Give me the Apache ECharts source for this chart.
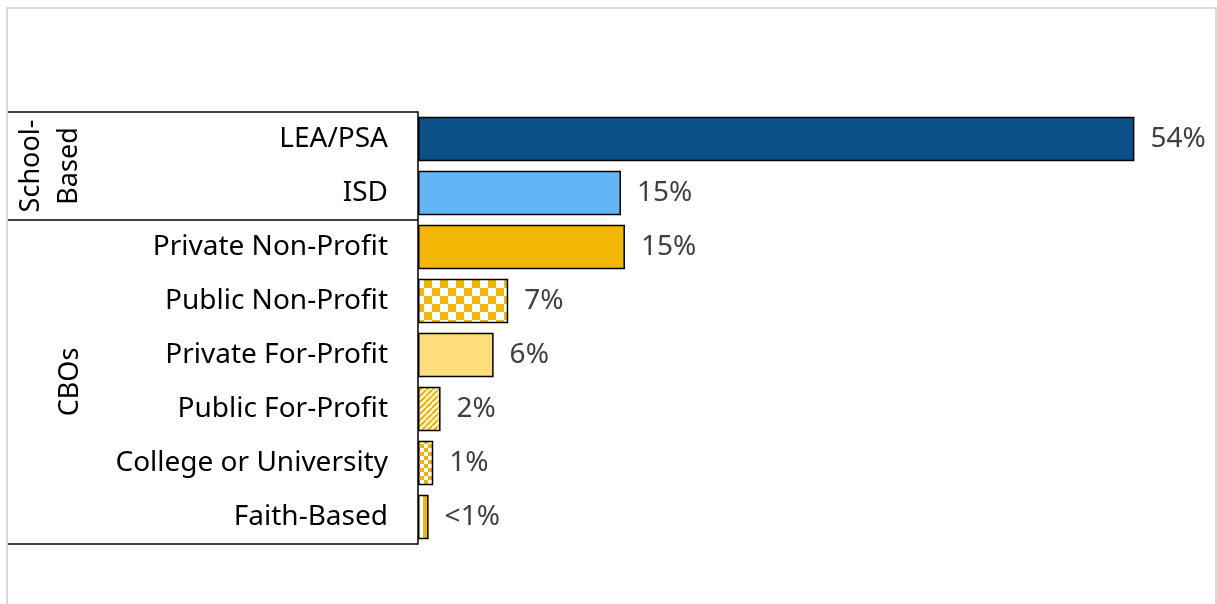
<!DOCTYPE html>
<html>
<head>
<meta charset="utf-8">
<script src="https://cdn.jsdelivr.net/npm/echarts@6/dist/echarts.min.js"></script>
<style>
  html, body { margin: 0; padding: 0; background: #fff; }
  #content { width: 1217px; height: 604px; }
</style>
</head>
<body>
<div id="content"></div>
<script>
// categories, top to bottom
const categories = ['LEA/PSA', 'ISD', 'Private Non-Profit', 'Public Non-Profit',
  'Private For-Profit', 'Public For-Profit', 'College or University', 'Faith-Based']
// share of providers (%)
const shares = [54, 15.3, 15.6, 6.8, 5.7, 1.7, 1.15, 0.8]
// labels printed next to each bar
const shareLabels = ['54%', '15%', '15%', '7%', '6%', '2%', '1%', '<1%']
// group headings
const groups = ['School-\nBased', 'CBOs']

const gold = '#f2b705'
const font = 'Noto Sans'

// small canvas fills for the patterned bars
function pattern(kind) {
  const c = document.createElement('canvas')
  const ctx = c.getContext('2d')
  if (kind === 'bigCheck' || kind === 'smallCheck') {
    const s = kind === 'bigCheck' ? 8 : 4
    c.width = c.height = s * 2
    ctx.fillStyle = '#fff'
    ctx.fillRect(0, 0, s * 2, s * 2)
    ctx.fillStyle = gold
    ctx.fillRect(0, 0, s, s)
    ctx.fillRect(s, s, s, s)
  } else if (kind === 'diag') {
    c.width = c.height = 6
    ctx.fillStyle = '#fff'
    ctx.fillRect(0, 0, 6, 6)
    ctx.strokeStyle = gold
    ctx.lineWidth = 2.4
    ctx.beginPath()
    for (let k = -6; k <= 12; k += 6) {
      ctx.moveTo(k, 6)
      ctx.lineTo(k + 6, 0)
    }
    ctx.stroke()
  } else if (kind === 'vert') {
    c.width = 9
    c.height = 4
    ctx.fillStyle = '#fff'
    ctx.fillRect(0, 0, 9, 4)
    ctx.fillStyle = gold
    ctx.fillRect(0, 0, 5, 4)
  }
  return {image: c, repeat: 'repeat'}
}

const fills = ['#0b5089', '#63b6f6', gold, pattern('bigCheck'), '#fedd7a',
  pattern('diag'), pattern('smallCheck'), pattern('vert')]

const chart = echarts.init(document.querySelector('#content'))
chart.setOption({
  animation: false,
  grid: {left: 418, top: 112, bottom: 60, right: 3, containLabel: false},
  xAxis: {
    type: 'value', min: 0, max: 60, show: false
  },
  yAxis: {
    type: 'category',
    data: categories,
    inverse: true,
    axisLine: {show: true, lineStyle: {color: '#000', width: 1.5}},
    axisTick: {show: false},
    axisLabel: {
      margin: 30,
      color: '#000',
      fontSize: 28,
      fontFamily: font
    }
  },
  series: [
    {
      type: 'bar',
      barCategoryGap: '18%',
      data: shares.map((v, i) => ({
        value: v,
        itemStyle: {color: fills[i]}
      })),
      itemStyle: {borderColor: '#000', borderWidth: 1.5},
      label: {
        show: true,
        position: 'right',
        distance: 16,
        color: '#404040',
        fontSize: 28,
        fontFamily: font,
        formatter: p => shareLabels[p.dataIndex]
      }
    }
  ],
  graphic: [
    {
      type: 'rect',
      shape: {x: 7, y: 8, width: 1209, height: 620},
      style: {fill: 'none', stroke: '#d9d9d9', lineWidth: 2},
      silent: true
    },
    {type: 'line', shape: {x1: 8, y1: 112, x2: 418, y2: 112}, style: {stroke: '#000', lineWidth: 1.5}},
    {type: 'line', shape: {x1: 8, y1: 220, x2: 418, y2: 220}, style: {stroke: '#000', lineWidth: 1.5}},
    {type: 'line', shape: {x1: 8, y1: 544, x2: 418, y2: 544}, style: {stroke: '#000', lineWidth: 1.5}},
    {
      type: 'text', x: 50, y: 166, rotation: Math.PI / 2,
      style: {
        text: groups[0], fill: '#000', fontSize: 27, fontFamily: font,
        align: 'center', verticalAlign: 'middle', lineHeight: 38
      }
    },
    {
      type: 'text', x: 70, y: 382, rotation: Math.PI / 2,
      style: {
        text: groups[1], fill: '#000', fontSize: 27, fontFamily: font,
        align: 'center', verticalAlign: 'middle'
      }
    }
  ]
})
</script>
</body>
</html>
